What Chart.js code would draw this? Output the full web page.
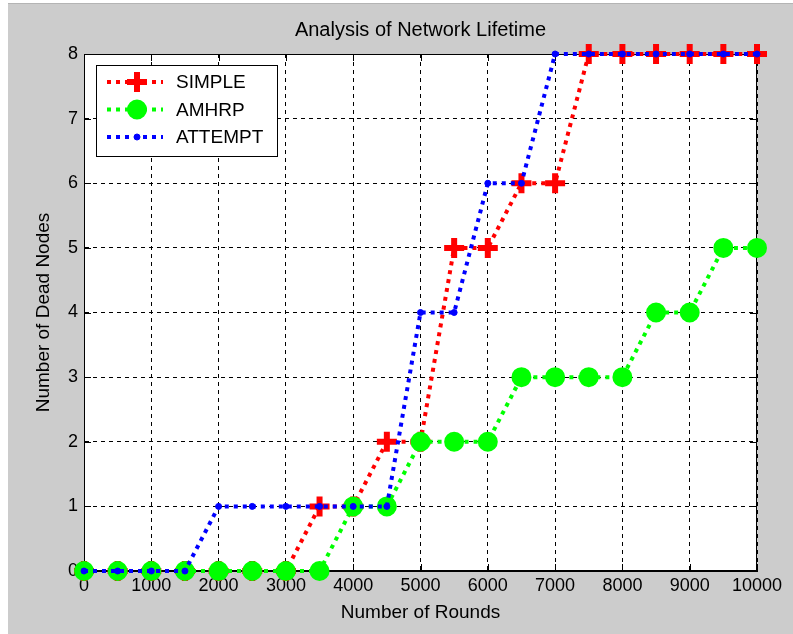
<!DOCTYPE html>
<html>
<head>
<meta charset="utf-8">
<script src="https://cdn.jsdelivr.net/npm/chart.js@4/dist/chart.umd.min.js"></script>
<style>
html, body { margin: 0; padding: 0; background: #cccccc; }
canvas { display: block; }
</style>
</head>
<body>
<canvas id="lifetime" width="793" height="634"></canvas>
<script>
// values, one point every 500 rounds
const rounds  = [0, 500, 1000, 1500, 2000, 2500, 3000, 3500, 4000, 4500, 5000,
                 5500, 6000, 6500, 7000, 7500, 8000, 8500, 9000, 9500, 10000];
const simple  = [0, 0, 0, 0, 0, 0, 0, 1, 1, 2, 2, 5, 5, 6, 6, 8, 8, 8, 8, 8, 8];
const amhrp   = [0, 0, 0, 0, 0, 0, 0, 0, 1, 1, 2, 2, 2, 3, 3, 3, 3, 4, 4, 5, 5];
const attempt = [0, 0, 0, 0, 1, 1, 1, 1, 1, 1, 4, 4, 6, 6, 8, 8, 8, 8, 8, 8, 8];
const seriesNames = ["SIMPLE", "AMHRP", "ATTEMPT"];

const FONT = "'Liberation Sans', Arial, sans-serif";
const DOTS = [4, 5];

const toPoints = (ys) => rounds.map((r, i) => ({ x: r, y: ys[i] }));

// gray figure, white axes, box with inward ticks
const framePlugin = {
    id: "frame",
    beforeDraw(chart) {
        const c = chart.ctx;
        const a = chart.chartArea;
        c.save();
        c.fillStyle = "#cccccc";
        c.fillRect(0, 0, chart.width, chart.height);
        c.fillStyle = "#ffffff";
        c.fillRect(0, 0, 8, chart.height);
        c.fillRect(0, 0, chart.width, 3);
        c.fillStyle = "#b4b4b4";
        c.fillRect(8, 3, chart.width, 1);
        c.fillStyle = "#ffffff";
        c.fillRect(a.left, a.top, a.right - a.left, a.bottom - a.top);
        c.restore();
    },
    beforeDatasetsDraw(chart) {
        const c = chart.ctx;
        const a = chart.chartArea;
        const xs = chart.scales.x;
        const ys = chart.scales.y;
        c.save();
        c.strokeStyle = "#000";
        c.lineWidth = 1;
        c.setLineDash([]);
        c.strokeRect(a.left + 0.5, a.top + 0.5, a.right - a.left - 1, a.bottom - a.top - 1);
        c.beginPath();
        xs.ticks.forEach(t => {
            const px = Math.round(xs.getPixelForValue(t.value)) + 0.5;
            c.moveTo(px, a.top); c.lineTo(px, a.top + 7);
            c.moveTo(px, a.bottom); c.lineTo(px, a.bottom - 7);
        });
        ys.ticks.forEach(t => {
            const py = Math.round(ys.getPixelForValue(t.value)) + 0.5;
            c.moveTo(a.left, py); c.lineTo(a.left + 7, py);
            c.moveTo(a.right, py); c.lineTo(a.right - 7, py);
        });
        c.stroke();
        c.restore();
    }
};

// legend box in the upper left corner, like the matlab one
const boxLegend = {
    id: "boxLegend",
    afterDraw(chart) {
        const c = chart.ctx;
        const x0 = 96, y0 = 65, w = 181, h = 91;
        c.save();
        c.fillStyle = "#fff";
        c.fillRect(x0, y0, w, h);
        c.strokeStyle = "#000";
        c.lineWidth = 1;
        c.strokeRect(x0 + 0.5, y0 + 0.5, w, h);
        chart.data.datasets.forEach((ds, i) => {
            const y = 82 + i * 27.5;
            c.strokeStyle = ds.borderColor;
            c.lineWidth = ds.borderWidth;
            c.setLineDash(DOTS);
            c.beginPath();
            c.moveTo(107, y);
            c.lineTo(163, y);
            c.stroke();
            c.setLineDash([]);
            const mx = 137;
            if (ds.pointStyle === "cross") {
                c.strokeStyle = ds.pointBorderColor;
                c.lineWidth = ds.pointBorderWidth;
                c.beginPath();
                c.moveTo(mx - ds.pointRadius, y); c.lineTo(mx + ds.pointRadius, y);
                c.moveTo(mx, y - ds.pointRadius); c.lineTo(mx, y + ds.pointRadius);
                c.stroke();
            } else {
                c.fillStyle = ds.pointBackgroundColor;
                c.strokeStyle = ds.pointBorderColor;
                c.lineWidth = ds.pointBorderWidth;
                c.beginPath();
                c.arc(mx, y, ds.pointRadius, 0, Math.PI * 2);
                c.fill();
                c.stroke();
            }
            c.fillStyle = "#000";
            c.font = "19px " + FONT;
            c.textBaseline = "middle";
            c.fillText(ds.label, 176, y + 1);
        });
        c.restore();
    }
};

const data = {
    datasets: [{
        label: seriesNames[0],
        data: toPoints(simple),
        borderColor: "#ff0000",
        borderWidth: 4,
        borderDash: DOTS,
        pointStyle: "cross",
        pointRadius: 10,
        pointBorderWidth: 6,
        pointBorderColor: "#ff0000",
        pointBackgroundColor: "#ff0000",
        order: 3,
        clip: false
    }, {
        label: seriesNames[1],
        data: toPoints(amhrp),
        borderColor: "#00ff00",
        borderWidth: 4,
        borderDash: DOTS,
        pointStyle: "circle",
        pointRadius: 9,
        pointBorderWidth: 2,
        pointBorderColor: "#00ff00",
        pointBackgroundColor: "#00ff00",
        order: 2,
        clip: false
    }, {
        label: seriesNames[2],
        data: toPoints(attempt),
        borderColor: "#0000ff",
        borderWidth: 4,
        borderDash: DOTS,
        pointStyle: "circle",
        pointRadius: 3,
        pointBorderWidth: 1,
        pointBorderColor: "#0000ff",
        pointBackgroundColor: "#0000ff",
        order: 1,
        clip: false
    }]
};

const config = {
    type: "line",
    data: data,
    options: {
        responsive: false,
        animation: false,
        devicePixelRatio: 1,
        layout: { padding: { left: 0, right: 36, top: 0, bottom: 0 } },
        elements: { line: { tension: 0 } },
        plugins: {
            legend: { display: false },
            tooltip: { enabled: false },
            title: {
                display: true,
                text: "Analysis of Network Lifetime",
                fullSize: false,
                color: "#000",
                font: { family: FONT, size: 20, weight: "normal" },
                padding: { top: 18, bottom: 12 }
            }
        },
        scales: {
            x: {
                type: "linear",
                min: 0,
                max: 10000,
                afterFit: (s) => { s.height = 63; },
                ticks: {
                    stepSize: 1000,
                    padding: 4,
                    color: "#000",
                    maxRotation: 0,
                    font: { family: FONT, size: 18 },
                    callback: (v) => String(v)
                },
                grid: { color: "#000", lineWidth: 1, drawTicks: false },
                border: { display: true, color: "#000", dash: [4, 4] },
                title: {
                    display: true,
                    text: "Number of Rounds",
                    color: "#000",
                    font: { family: FONT, size: 19 },
                    padding: { top: 0, bottom: 9.6 }
                }
            },
            y: {
                min: 0,
                max: 8,
                afterFit: (s) => { s.width = 84; },
                ticks: {
                    stepSize: 1,
                    padding: 6,
                    color: "#000",
                    font: { family: FONT, size: 18 }
                },
                grid: { color: "#000", lineWidth: 1, drawTicks: false },
                border: { display: true, color: "#000", dash: [4, 4] },
                title: {
                    display: true,
                    text: "Number of Dead Nodes",
                    color: "#000",
                    font: { family: FONT, size: 19 },
                    padding: { top: 32.6, bottom: 0 }
                }
            }
        }
    },
    plugins: [framePlugin, boxLegend]
};

new Chart(document.getElementById("lifetime"), config);
</script>
</body>
</html>
